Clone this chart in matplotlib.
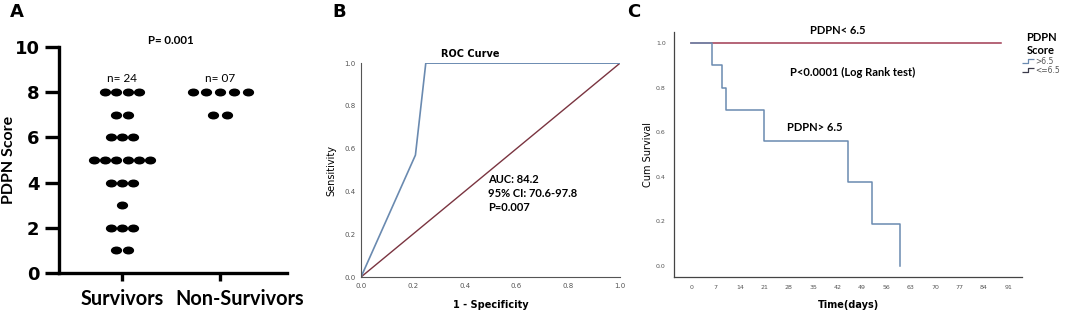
import matplotlib.pyplot as plt
import matplotlib.transforms as mtransforms
import numpy as np
from matplotlib.path import Path
from matplotlib.lines import Line2D

# Data
groups = ['Survivors', 'Non-Survivors']
survivor_scores = [8, 7, 6, 5, 4, 3, 2, 1]
survivor_counts = [4, 2, 3, 6, 3, 1, 3, 2]
nonsurv_scores = [8, 7]
nonsurv_counts = [5, 2]

roc_fpr = [0.0, 0.21, 0.25, 1.0]
roc_tpr = [0.0, 0.57, 1.0, 1.0]

km_high_t = [0, 6, 9, 10, 21, 45, 52, 60]
km_high_s = [1.0, 0.9, 0.8, 0.7, 0.5625, 0.375, 0.1875, 0.0]
km_low_t = [0, 89]
km_low_s = [1.0, 1.0]

blue = '#6a8ab0'
red = '#a03a52'
grey = '#555555'
sans = 'Lato'

fig = plt.figure(figsize=(10.65, 3.15), dpi=100)

# ellipse marker for the dot plot
circ = Path.unit_circle()
ell = Path(circ.vertices * np.array([1.5, 1.0]), circ.codes)

# ---------- A ----------
axA = fig.add_axes([0.0554, 0.1333, 0.214, 0.7175])
for gi, (scores, counts, sp) in enumerate([(survivor_scores, survivor_counts, 0.115),
                                          (nonsurv_scores, nonsurv_counts, 0.14)]):
    for s, c in zip(scores, counts):
        xs = gi + (np.arange(c) - (c - 1) / 2) * sp
        axA.scatter(xs, [s] * c, marker=ell, s=50, color='black', clip_on=False, zorder=3)
axA.set_xlim(-0.64, 1.68)
axA.set_ylim(0, 10)
axA.set_yticks(range(0, 11, 2))
axA.set_xticks([0, 1])
axA.set_xticklabels([])
# group labels; the second one sits a little right of its tick in the original
xlab_tr = mtransforms.blended_transform_factory(axA.transData, axA.transAxes)
shift = [0, 0.2]
for gi, name in enumerate(groups):
    axA.text(gi, -0.07, name, transform=xlab_tr + mtransforms.ScaledTranslation(
        shift[gi], 0, fig.dpi_scale_trans), fontsize=14.3, fontfamily=sans,
        fontweight='bold', ha='center', va='top')
for lab in axA.get_yticklabels():
    lab.set_fontweight('heavy')
    lab.set_fontsize(13)
axA.tick_params(axis='y', width=2.4, length=10, pad=4)
axA.tick_params(axis='x', width=2.4, length=6, pad=3)
for side in ['top', 'right']:
    axA.spines[side].set_visible(False)
for side in ['left', 'bottom']:
    axA.spines[side].set_linewidth(2.4)
axA.set_ylabel('PDPN Score', fontsize=11.5, fontweight='bold', fontfamily=sans)
axA.yaxis.set_label_coords(-0.19, 0.5)
axA.text(0.5, 10.05, 'P= 0.001', fontsize=8.3, fontweight='bold', ha='center', va='bottom',
         fontfamily=sans)
axA.text(0, 8.35, 'n= 24', fontsize=8.5, ha='center', va='bottom', fontfamily=sans)
axA.text(1, 8.35, 'n= 07', fontsize=8.5, ha='center', va='bottom', fontfamily=sans)

# ---------- B ----------
axB = fig.add_axes([0.339, 0.1206, 0.2432, 0.679])
axB.plot([0, 1], [0, 1], color='#7a3440', lw=1)
axB.plot(roc_fpr, roc_tpr, color=blue, lw=1.2)
axB.set_xlim(0, 1)
axB.set_ylim(0, 1)
axB.set_xticks(np.arange(0, 1.01, 0.2))
axB.set_yticks(np.arange(0, 1.01, 0.2))
axB.xaxis.set_major_formatter(plt.FormatStrFormatter('%.1f'))
axB.yaxis.set_major_formatter(plt.FormatStrFormatter('%.1f'))
axB.tick_params(labelsize=5, colors=grey, length=0, pad=4)
for side in ['top', 'right']:
    axB.spines[side].set_visible(False)
for side in ['left', 'bottom']:
    axB.spines[side].set_color('#555555')
    axB.spines[side].set_linewidth(0.8)
axB.set_ylabel('Sensitivity', fontsize=7, labelpad=6)
axB.set_xlabel('1 - Specificity', fontsize=7, fontweight='bold', labelpad=8)
axB.text(0.31, 1.02, 'ROC Curve', fontsize=7, fontweight='bold', va='bottom', ha='left')
axB.text(0.49, 0.39, 'AUC: 84.2\n95% CI: 70.6-97.8\nP=0.007', fontsize=8,
         fontweight='bold', fontfamily=sans, va='center', ha='left', linespacing=1.3)

# ---------- C ----------
axC = fig.add_axes([0.6329, 0.1206, 0.3268, 0.778])
axC.step(km_low_t, km_low_s, where='post', color=red, lw=1.1)
axC.step(km_high_t + [km_high_t[-1]], km_high_s + [km_high_s[-1]], where='post', color=blue, lw=1.1)
axC.set_xlim(-4.9, 95)
axC.set_ylim(-0.05, 1.05)
axC.set_xticks(range(0, 92, 7))
axC.set_yticks(np.arange(0, 1.01, 0.2))
axC.yaxis.set_major_formatter(plt.FormatStrFormatter('%.1f'))
axC.tick_params(labelsize=4.5, colors=grey, length=0, pad=6)
for side in ['top', 'right']:
    axC.spines[side].set_visible(False)
for side in ['left', 'bottom']:
    axC.spines[side].set_color('#444444')
    axC.spines[side].set_linewidth(0.9)
axC.set_ylabel('Cum Survival', fontsize=7, labelpad=2)
axC.set_xlabel('Time(days)', fontsize=7, fontweight='bold', labelpad=7)
axC.text(42.2, 1.055, 'PDPN< 6.5', fontsize=8, fontweight='bold', ha='center', va='center',
         fontfamily=sans)
axC.text(46.5, 0.87, 'P<0.0001 (Log Rank test)', fontsize=8, fontweight='bold', ha='center',
         va='center', fontfamily=sans)
axC.text(35.5, 0.62, 'PDPN> 6.5', fontsize=8, fontweight='bold', ha='center', va='center',
         fontfamily=sans)

step = Path([(-1, -0.4), (0, -0.4), (0, 0.4), (1, 0.4)],
            [Path.MOVETO, Path.LINETO, Path.LINETO, Path.LINETO])
handles = [Line2D([], [], ls='none', marker=step, markersize=8, markeredgewidth=0.9,
                  markerfacecolor='none', markeredgecolor=blue),
           Line2D([], [], ls='none', marker=step, markersize=8, markeredgewidth=0.9,
                  markerfacecolor='none', markeredgecolor='#3a3a4a')]
leg = axC.legend(handles, ['>6.5', '<=6.5'], title='PDPN\nScore', loc='upper left',
                 bbox_to_anchor=(0.985, 1.02), frameon=False, fontsize=5.5,
                 title_fontproperties={'weight': 'bold', 'size': 8, 'family': sans},
                 handlelength=1.4, handletextpad=0.3, labelspacing=0.05, borderpad=0.2)
leg._legend_box.align = 'center'
leg.get_title().set_multialignment('center')
for t in leg.get_texts():
    t.set_color(grey)

fig.text(0.009, 0.962, 'A', fontsize=13, fontweight='bold', va='center')
fig.text(0.312, 0.962, 'B', fontsize=13, fontweight='bold', va='center')
fig.text(0.589, 0.962, 'C', fontsize=13, fontweight='bold', va='center')

fig.savefig('out.png', dpi=100)
